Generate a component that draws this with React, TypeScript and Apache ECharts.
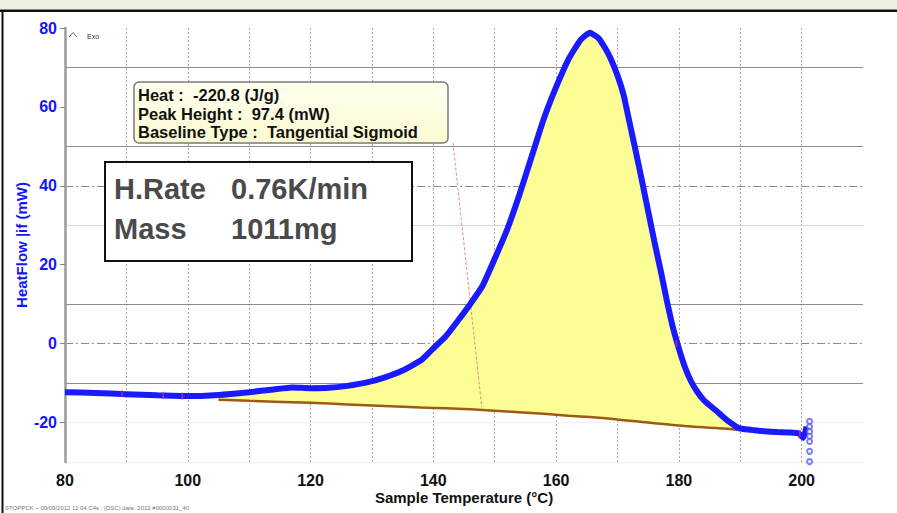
import React, { useEffect, useRef } from "react";
import * as echarts from "echarts";

// Sample temperature (°C) and heat flow (mW) of the measured curve
const curveT = [80, 85, 90, 95, 100, 105, 110, 114, 117, 120, 123, 126, 129, 132, 135, 138, 140, 142, 144, 146, 148, 150, 152, 154, 156, 158, 160, 162, 164, 165.5, 167, 168.5, 170, 171, 172, 173, 174, 175, 176, 177, 178, 179, 180, 181, 182, 183, 184, 185, 186, 187, 188, 189, 189.5, 190, 192, 194, 196, 198, 199.5, 200.3, 200.8];
const curveV = [-12.3, -12.5, -12.8, -13.1, -13.3, -13.0, -12.3, -11.6, -11.1, -11.3, -11.2, -10.7, -9.9, -8.6, -6.8, -4.2, -1.2, 1.8, 5.8, 10.0, 14.6, 21.5, 28.8, 37.6, 47.3, 57.0, 65.0, 72.0, 77.0, 78.8, 77.3, 73.5, 68.0, 63.0, 55.8, 48.6, 41.2, 33.6, 26.0, 18.8, 11.2, 4.3, -1.2, -6.0, -9.6, -12.2, -14.2, -15.6, -16.9, -18.3, -19.6, -20.7, -21.2, -21.5, -21.9, -22.2, -22.4, -22.5, -22.7, -23.9, -21.0];

// Tangential sigmoid baseline
const baseT = [105, 110, 114, 117, 120, 123, 126, 129, 132, 135, 138, 140, 142, 144, 146, 148, 150, 152, 154, 156, 158, 160, 162, 164, 165.5, 167, 168.5, 170, 171, 172, 173, 174, 175, 176, 177, 178, 179, 180, 181, 182, 183, 184, 185, 186, 187, 188, 189, 189.5];
const baseV = [-14.2, -14.5, -14.7, -14.85, -15.0, -15.2, -15.4, -15.6, -15.8, -16.0, -16.2, -16.3, -16.4, -16.5, -16.65, -16.8, -17.0, -17.2, -17.4, -17.6, -17.8, -18.0, -18.25, -18.45, -18.6, -18.8, -19.0, -19.25, -19.4, -19.55, -19.7, -19.85, -20.0, -20.15, -20.3, -20.45, -20.6, -20.75, -20.9, -21.0, -21.1, -21.2, -21.3, -21.4, -21.5, -21.6, -21.75, -21.85];

// Perpendicular marker line (dashed red)
const markerT = [143.2, 147.9];
const markerV = [50.9, -16.2];

// Open circles at the end of the run
const tailT = [201.3, 201.3, 201.3, 201.3, 201.3, 201.3, 201.3];
const tailV = [-19.7, -21.0, -22.3, -23.5, -24.8, -27.3, -29.9];

// Small event marks on the curve
const eventT = [89.3, 96.0, 99.1, 179.6, 199.7];
const eventV = [-12.7, -13.1, -13.3, 0.0, -22.7];

const yTickLabels = [-20, 0, 20, 40, 60, 80];
const xTickLabels = [80, 100, 120, 140, 160, 180, 200];

// Horizontal grid lines
const solidGrid = [70, 50, 10, -10];
const lightGrid = [30];
const dashDotGrid = [40, 0];
const faintGrid = [-20, -30];

const infoLines = ["Heat :  -220.8 (J/g)", "Peak Height :  97.4 (mW)", "Baseline Type :  Tangential Sigmoid"];
const runLabels = ["H.Rate", "Mass"];
const runValues = ["0.76K/min", "1011mg"];

const FONT = "'Liberation Sans', Arial, sans-serif";
const nb = (s: string) => s.replace(/ /g, "\u00a0");

export default function App() {
  const ref = useRef<HTMLDivElement>(null);
  useEffect(() => {
    if (!ref.current) return;
    const chart = echarts.init(ref.current, undefined, { renderer: "svg" });

    const curveMap = new Map<number, number>();
    curveT.forEach((t, i) => curveMap.set(t, curveV[i]));
    const baseData = baseT.map((t, i) => [t, baseV[i]]);
    const curveData = curveT.map((t, i) => [t, curveV[i]]);

    const T = "transparent";
    const vColors = [T, "#a8a8a8", "#a8a8a8", "#a8a8a8", "#a8a8a8", "#a8a8a8", "#a8a8a8", "#a8a8a8", "#a8a8a8", "#a8a8a8", "#a8a8a8", "#a8a8a8", "#a8a8a8", T];

    const hLine = (v: number, color: string, type: any, width: number) => ({
      yAxis: v,
      lineStyle: { color, type, width },
    });

    const graphics: any[] = [
      { type: "rect", shape: { x: 0, y: 0, width: 897, height: 10 }, style: { fill: "#eff0e3" }, z: 10 },
      { type: "rect", shape: { x: 0, y: 9.5, width: 897, height: 2.5 }, style: { fill: "#111" }, z: 10 },
      { type: "rect", shape: { x: 1.5, y: 10, width: 2, height: 503 }, style: { fill: "#111" }, z: 10 },
      { type: "polyline", shape: { points: [[69, 37], [73, 32.5], [77, 37]] }, style: { stroke: "#666", lineWidth: 1, fill: "none" }, z: 10 },
      { type: "text", x: 87, y: 36, style: { text: "Exo", font: `7px ${FONT}`, fill: "#333", verticalAlign: "middle" }, z: 10 },
      {
        type: "rect",
        shape: { x: 134, y: 82, width: 314, height: 61, r: 5 },
        style: {
          fill: new echarts.graphic.LinearGradient(0, 0, 0, 1, [
            { offset: 0, color: "#ffffef" },
            { offset: 1, color: "#fafad2" },
          ]),
          stroke: "#7a7a7a",
          lineWidth: 1.5,
        },
        z: 10,
      },
      ...infoLines.map((t, i) => ({
        type: "text",
        x: 138,
        y: 95 + i * 18.5,
        style: { text: nb(t), font: `bold 16.5px ${FONT}`, fill: "#111", verticalAlign: "middle" },
        z: 11,
      })),
      { type: "rect", shape: { x: 105, y: 162, width: 307, height: 99 }, style: { fill: "#fff", stroke: "#111", lineWidth: 2 }, z: 10 },
      ...runLabels.map((t, i) => ({
        type: "text",
        x: 114,
        y: 189 + i * 40,
        style: { text: t, font: `bold 29px ${FONT}`, fill: "#4a4a4a", verticalAlign: "middle" },
        z: 11,
      })),
      ...runValues.map((t, i) => ({
        type: "text",
        x: 231,
        y: 189 + i * 40,
        style: { text: t, font: `bold 29px ${FONT}`, fill: "#4a4a4a", verticalAlign: "middle" },
        z: 11,
      })),
      { type: "text", x: 5, y: 508, style: { text: "STOPPCK ~ 09/09/2012 11:04 C4s : (DSC) date: 2012 #0000031_40", font: `6px ${FONT}`, fill: "#777", verticalAlign: "middle" }, z: 10 },
    ];

    chart.setOption({
      animation: false,
      backgroundColor: "#ffffff",
      grid: { left: 65, right: 34, top: 28, bottom: 51, containLabel: false },
      xAxis: {
        type: "value",
        min: 80,
        max: 210,
        interval: 10,
        name: "Sample Temperature (°C)",
        nameLocation: "middle",
        nameGap: 28,
        nameMoveOverlap: false,
        nameTextStyle: { fontFamily: FONT, fontWeight: "bold", fontSize: 15, color: "#111" },
        axisLine: { show: false },
        axisTick: { show: false },
        axisLabel: {
          margin: 10,
          fontFamily: FONT,
          fontWeight: "bold",
          fontSize: 16,
          color: "#111",
          formatter: (v: number) => (xTickLabels.includes(v) ? String(v) : ""),
        },
        splitLine: { show: true, lineStyle: { color: vColors, width: 1, type: [2, 2] } },
      },
      yAxis: {
        type: "value",
        min: -30,
        max: 80,
        interval: 10,
        name: "HeatFlow |if (mW)",
        nameLocation: "middle",
        nameGap: 36,
        nameMoveOverlap: false,
        nameTextStyle: { fontFamily: FONT, fontWeight: "bold", fontSize: 15, color: "#1414ff" },
        axisLine: { show: true, lineStyle: { color: "#9a9a9a", width: 2.5 } },
        axisTick: { show: true, length: 5, customValues: yTickLabels, lineStyle: { color: "#888" } },
        axisLabel: {
          margin: 8,
          fontFamily: FONT,
          fontWeight: "bold",
          fontSize: 16,
          color: "#1414ff",
          formatter: (v: number) => (yTickLabels.includes(v) ? String(v) : ""),
        },
        splitLine: { show: false },
      },
      series: [
        {
          type: "line",
          data: [],
          symbol: "none",
          silent: true,
          z: 0,
          markLine: {
            silent: true,
            z: 0,
            symbol: "none",
            label: { show: false },
            data: [
              ...solidGrid.map((v) => hLine(v, "#8c8c8c", "solid", 1.2)),
              ...lightGrid.map((v) => hLine(v, "#d6d6d6", "solid", 1.2)),
              ...dashDotGrid.map((v) => hLine(v, "#8a8a8a", [8, 3, 2, 3], 1)),
              ...faintGrid.map((v) => hLine(v, "#e2e2e2", [2, 2], 1)),
            ],
          },
        },
        {
          type: "custom",
          data: [[baseT[0], baseV[0]]],
          silent: true,
          z: 1,
          renderItem: (_params: any, api: any) => {
            const pts: number[][] = [];
            baseT.forEach((t) => pts.push(api.coord([t, curveMap.get(t) as number])));
            for (let i = baseT.length - 1; i >= 0; i--) pts.push(api.coord([baseT[i], baseV[i]]));
            return { type: "polygon", shape: { points: pts }, style: { fill: "#fdfd96" } };
          },
        },
        {
          type: "line",
          data: markerT.map((t, i) => [t, markerV[i]]),
          symbol: "none",
          lineStyle: { color: "#e28a8a", width: 1, type: [3, 2] },
          z: 2,
        },
        {
          type: "line",
          data: baseData,
          symbol: "none",
          lineStyle: { color: "#9c5a12", width: 2.5 },
          z: 3,
        },
        {
          type: "line",
          data: curveData,
          symbol: "none",
          smooth: 0.15,
          lineStyle: { color: "#1a1aff", width: 6 },
          z: 4,
        },
        {
          type: "scatter",
          data: tailT.map((t, i) => [t, tailV[i]]),
          symbol: "emptyCircle",
          symbolSize: 5,
          itemStyle: { color: "#5a5aff", borderWidth: 1.2 },
          z: 5,
        },
        {
          type: "scatter",
          data: eventT.map((t, i) => [t, eventV[i]]),
          symbol: "rect",
          symbolSize: [1.5, 7],
          itemStyle: { color: "#d8307a" },
          z: 5,
        },
      ],
      graphic: graphics,
    });
    return () => chart.dispose();
  }, []);
  return <div ref={ref} style={{ position: "fixed", left: 0, top: 0, width: 897, height: 513 }} />;
}
